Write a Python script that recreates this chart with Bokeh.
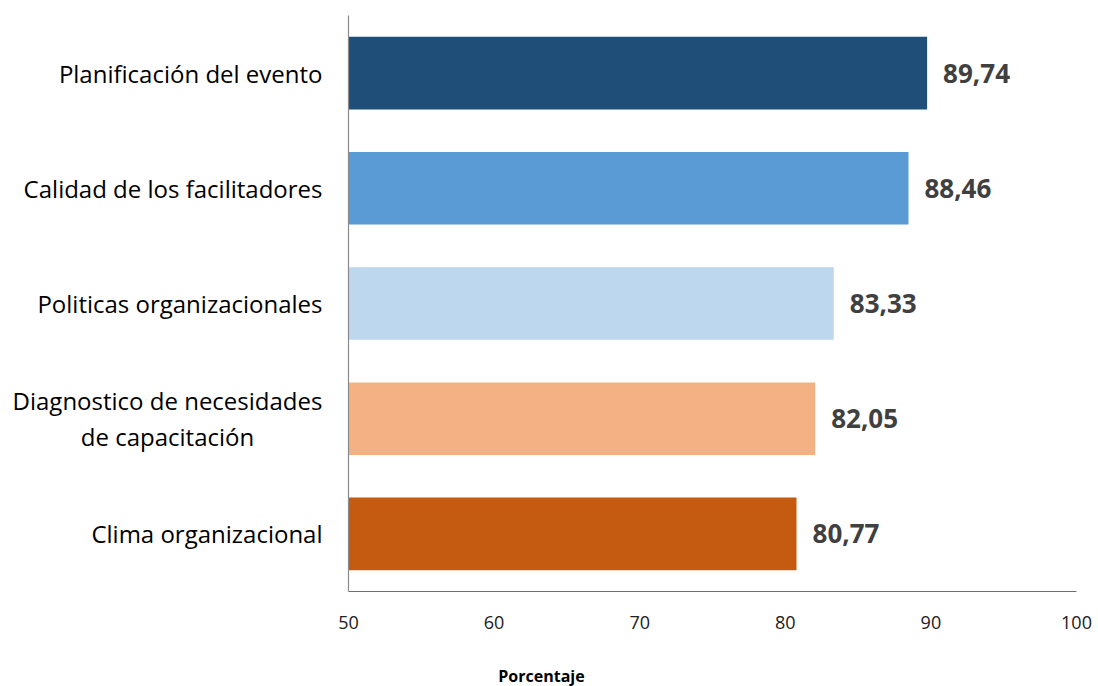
from bokeh.plotting import figure
from bokeh.layouts import row, column
from bokeh.models import ColumnDataSource, FactorRange, Range1d, FixedTicker
from bokeh.embed import file_html
from bokeh.resources import INLINE
from bokeh.core.properties import value

categories = ["Clima organizacional",
              "Diagnostico de necesidades de capacitación",
              "Politicas organizacionales",
              "Calidad de los facilitadores",
              "Planificación del evento"]
category_lines = [["Clima organizacional"],
                  ["Diagnostico de necesidades", "de capacitación"],
                  ["Politicas organizacionales"],
                  ["Calidad de los facilitadores"],
                  ["Planificación del evento"]]
values = [80.77, 82.05, 83.33, 88.46, 89.74]
value_labels = ["80,77", "82,05", "83,33", "88,46", "89,74"]
colors = ["#C55A11", "#F4B183", "#BDD7EE", "#5B9BD5", "#1F4E79"]
axis_ticks = [50, 60, 70, 80, 90, 100]
x_title = "Porcentaje"

TITLE_H = 22
H = 686 - TITLE_H
TOP, BOTTOM = 15, 95 - TITLE_H
LEFT_W = 332          # width of the label panel
MAIN_PAD_L = 16       # space left of the bar frame inside the main panel
FRAME_W = 727
MAIN_PAD_R = 22
MAIN_W = MAIN_PAD_L + 1 + FRAME_W + MAIN_PAD_R
TOTAL_W = LEFT_W + MAIN_W

yr = FactorRange(*categories, range_padding=0.0)
font = value("Open Sans")

# ---- left panel: category labels sharing the y range ----
lp = figure(width=LEFT_W, height=H, output_backend="svg", toolbar_location=None,
            y_range=yr, x_range=Range1d(0, LEFT_W),
            min_border_left=0, min_border_right=0, min_border_top=TOP, min_border_bottom=BOTTOM)
lp.axis.visible = False
lp.grid.grid_line_color = None
lp.outline_line_color = None

single_c, single_t, multi_c, multi_t, multi_off = [], [], [], [], []
for c, lines in zip(categories, category_lines):
    if len(lines) == 1:
        single_c.append(c)
        single_t.append(lines[0])
    else:
        n = len(lines)
        for i, t in enumerate(lines):
            multi_c.append(c)
            multi_t.append(t)
            multi_off.append((i - (n - 1) / 2) * 36)

right_edge = LEFT_W + MAIN_PAD_L - 26
lp.text(x=right_edge, y="c", text="t", source=ColumnDataSource(dict(c=single_c, t=single_t)),
        text_align="right", text_baseline="middle", text_font=font,
        text_font_size="24px", text_color="#000000")
lp.text(x=right_edge - 155, y="c", text="t", y_offset="o",
        source=ColumnDataSource(dict(c=multi_c, t=multi_t, o=multi_off)),
        text_align="center", text_baseline="middle", text_font=font,
        text_font_size="24px", text_color="#000000")

# ---- main panel: bars ----
src = ColumnDataSource(dict(cat=categories, val=values, lab=value_labels, col=colors))
p = figure(width=MAIN_W, height=H, output_backend="svg", toolbar_location=None,
           y_range=yr, x_range=Range1d(50, 100),
           min_border_left=MAIN_PAD_L, min_border_right=MAIN_PAD_R,
           min_border_top=TOP, min_border_bottom=BOTTOM)
p.outline_line_color = None
p.grid.grid_line_color = None

p.hbar(y="cat", left=50, right="val", height=0.63, fill_color="col", line_color=None, source=src)
p.text(x="val", y="cat", text="lab", x_offset=16, text_align="left", text_baseline="middle",
       text_font=font, text_font_style="bold", text_font_size="26px",
       text_color="#404040", source=src)

xa = p.xaxis[0]
xa.ticker = FixedTicker(ticks=axis_ticks)
xa.axis_line_color = "#6f6f6f"
xa.axis_line_width = 1.2
xa.major_tick_line_color = None
xa.minor_tick_line_color = None
xa.major_label_text_font = "Open Sans"
xa.major_label_text_font_size = "18px"
xa.major_label_text_color = "#202020"
xa.major_label_standoff = 18

ya = p.yaxis[0]
ya.axis_line_color = "#8a8a8a"
ya.axis_line_width = 1.2
ya.major_tick_line_color = None
ya.minor_tick_line_color = None
ya.major_tick_out = 0
ya.major_label_text_font_size = "0px"
ya.major_label_standoff = 0

# ---- bottom strip: x axis title ----
tp = figure(width=TOTAL_W, height=TITLE_H, output_backend="svg", toolbar_location=None,
            x_range=Range1d(0, TOTAL_W), y_range=Range1d(0, 1),
            min_border_left=0, min_border_right=0, min_border_top=0, min_border_bottom=0)
tp.axis.visible = False
tp.grid.grid_line_color = None
tp.outline_line_color = None
tp.text(x=[LEFT_W + MAIN_PAD_L + 193], y=[0.5], text=[x_title],
        text_align="center", text_baseline="middle", text_font=font,
        text_font_style="bold", text_font_size="16px", text_color="#000000")

open("out.html", "w").write(file_html(column(row(lp, p, spacing=0), tp, spacing=0), INLINE))
